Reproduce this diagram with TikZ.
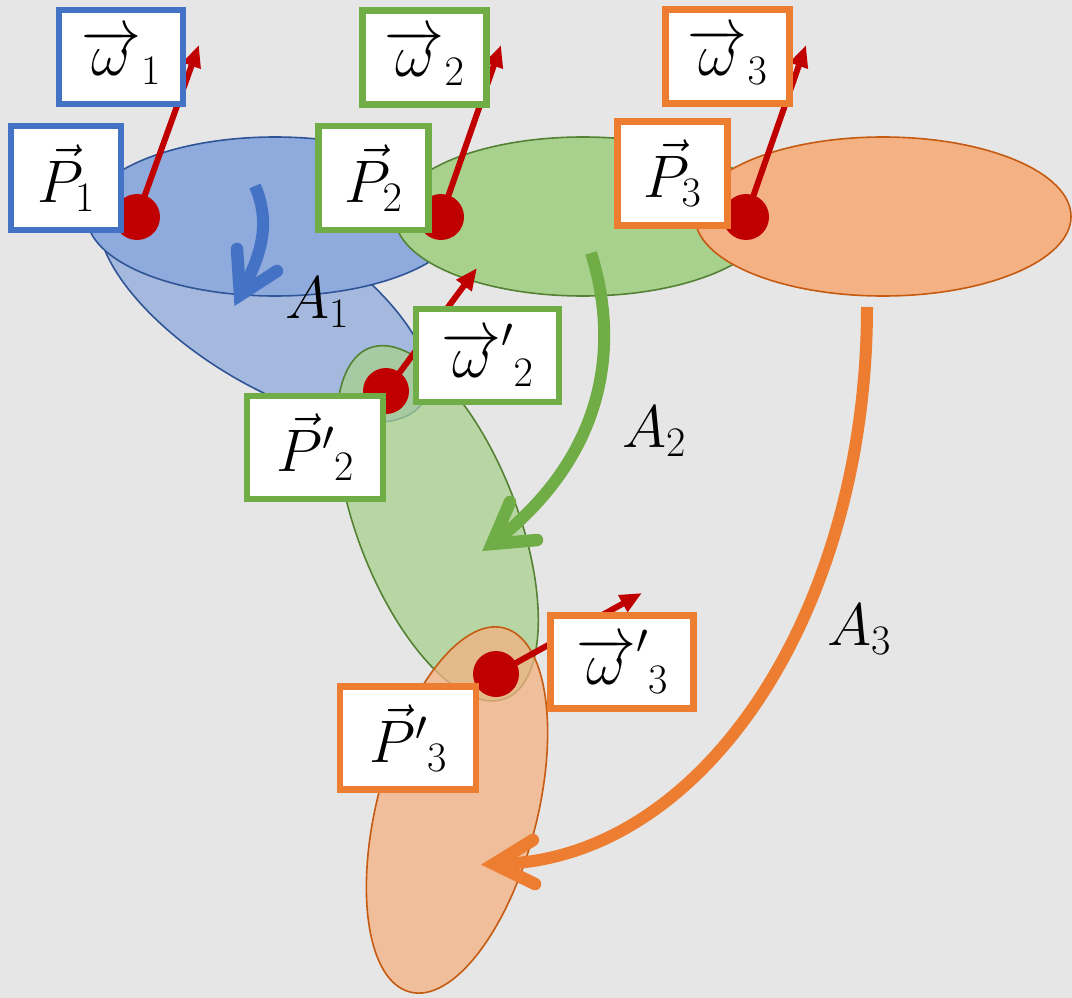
\RequirePackage{fix-cm}
\documentclass[tikz,border=0pt]{standalone}
\usetikzlibrary{arrows.meta}
\definecolor{bg}{HTML}{E7E6E6}
\definecolor{bluel}{HTML}{4472C4}
\definecolor{greenl}{HTML}{70AD47}
\definecolor{orangel}{HTML}{ED7D31}
\definecolor{bluef}{HTML}{8FAADC}
\definecolor{greenf}{HTML}{A9D18E}
\definecolor{orangef}{HTML}{F4B183}
\definecolor{blued}{HTML}{2F5597}
\definecolor{greend}{HTML}{548235}
\definecolor{oranged}{HTML}{C55A11}
\definecolor{redc}{HTML}{C00000}
\begin{document}
\begin{tikzpicture}[x=1pt,y=-1pt,
  every node/.style={font=\fontsize{60}{72}\selectfont},
  body/.style={line width=1.6pt},
  tilt/.style={body, fill opacity=0.75},
  lbox/.style={draw=#1, line width=6.5pt, fill=white, inner sep=0pt},
  wbox/.style={lbox=#1, minimum width=124pt, minimum height=94pt},
  pbox/.style={lbox=#1, minimum width=110pt, minimum height=104pt},
  wpbox/.style={lbox=#1, minimum width=143pt, minimum height=93pt},
  ppbox/.style={lbox=#1, minimum width=136pt, minimum height=103pt},
  joint/.style={circle, fill=redc, minimum size=46pt, inner sep=0pt},
  vecarrow/.style={draw=redc, line width=6pt, -{Triangle[length=22pt,width=18pt]}},
  rotshaft/.style={line width=12pt, line cap=butt},
  barb/.style={line width=12.5pt, line cap=round, line join=miter},
  alab/.style={anchor=base west, inner sep=0pt}
]
\fill[bg] (0,0) rectangle (1072,998);
\useasboundingbox (0,0) rectangle (1072,998);

% rotated bodies (behind)
\path[tilt, draw=blued, fill=bluef, rotate around={-32:(264,302)}] (264,302) ellipse [x radius=188pt, y radius=80pt];
% bodies in initial position
\path[body, draw=blued, fill=bluef] (275,216.5) ellipse [x radius=188pt, y radius=79.5pt];
\path[body, draw=greend, fill=greenf] (583,216.5) ellipse [x radius=188pt, y radius=79.5pt];
\path[body, draw=oranged, fill=orangef] (883,216.5) ellipse [x radius=188pt, y radius=79.5pt];
% rotated bodies
\path[tilt, draw=greend, fill=greenf, rotate around={-68.8:(437.4,523.3)}] (437.4,523.3) ellipse [x radius=188pt, y radius=80pt];
\path[tilt, draw=oranged, fill=orangef, rotate around={-104.5:(457,810)}] (457,810) ellipse [x radius=188pt, y radius=80pt];

% rotation arrows
\coordinate (a1s) at (255,186);
\coordinate (a1e) at (240,295);
\coordinate (a1l) at (237,249);
\coordinate (a1r) at (277,271);
\coordinate (a2s) at (591,253);
\coordinate (a2e) at (492,544);
\coordinate (a2l) at (510,502);
\coordinate (a2r) at (537,540);
\coordinate (a3s) at (867,307);
\coordinate (a3e) at (494,864);
\coordinate (a3l) at (533,840);
\coordinate (a3r) at (535,884);
\draw[rotshaft, draw=bluel] (a1s) .. controls (272,225) and (260,258) .. (a1e);
\draw[barb, draw=bluel] (a1l) -- (a1e) -- (a1r);
\draw[rotshaft, draw=greenl] (a2s) .. controls (618,338) and (612,452) .. (a2e);
\draw[barb, draw=greenl] (a2l) -- (a2e) -- (a2r);
\draw[rotshaft, draw=orangel] (a3s) .. controls (867,615) and (700,864) .. (a3e);
\draw[barb, draw=orangel] (a3l) -- (a3e) -- (a3r);

% joints and angular velocity vectors
\node[joint] (p1) at (137,217) {};
\node[joint] (p2) at (441,217) {};
\node[joint] (p3) at (746,217) {};
\node[joint] (p2b) at (386,391) {};
\node[joint] (p3b) at (496,674) {};
\coordinate (w1t) at (199,45);
\coordinate (w2t) at (501,45);
\coordinate (w3t) at (806,45);
\coordinate (w2bt) at (477,268);
\coordinate (w3bt) at (642,593);
\draw[vecarrow] (p1.center) -- (w1t);
\draw[vecarrow] (p2.center) -- (w2t);
\draw[vecarrow] (p3.center) -- (w3t);
\draw[vecarrow] (p2b.center) -- (w2bt);
\draw[vecarrow] (p3b.center) -- (w3bt);

% labels
\node[wbox=bluel] (lw1) at (121,57) {$\overrightarrow{\omega}_1$};
\node[pbox=bluel] (lp1) at (66,178) {$\vec{P}_1$};
\node[wbox=greenl] (lw2) at (424.5,57.5) {$\overrightarrow{\omega}_2$};
\node[pbox=greenl] (lp2) at (373.5,178) {$\vec{P}_2$};
\node[wbox=orangel] (lw3) at (727.5,56.5) {$\overrightarrow{\omega}_3$};
\node[pbox=orangel] (lp3) at (672.5,173.5) {$\vec{P}_3$};
\node[wpbox=greenl] (lw2b) at (487.5,355.5) {$\overrightarrow{\omega}'{}_2$};
\node[ppbox=greenl] (lp2b) at (315,447.5) {$\vec{P}'{}_2$};
\node[wpbox=orangel] (lw3b) at (622,662) {$\overrightarrow{\omega}'{}_3$};
\node[ppbox=orangel] (lp3b) at (408,738) {$\vec{P}'{}_3$};

\node[alab] (la1) at (285,318) {$A_1$};
\node[alab] (la2) at (622,447) {$A_2$};
\node[alab] (la3) at (827,645) {$A_3$};
\end{tikzpicture}
\end{document}
